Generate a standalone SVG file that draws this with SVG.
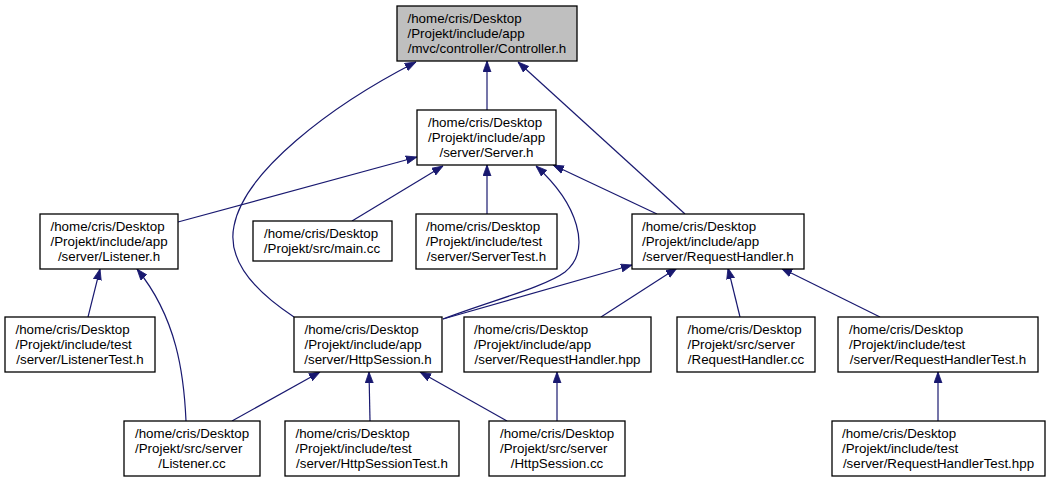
<svg xmlns="http://www.w3.org/2000/svg" width="1049" height="483" viewBox="0 0 1049 483">
<style>
.n rect{fill:#fff;stroke:#000;stroke-width:1.3}
.n.root rect{fill:#bfbfbf}
.n text{font-family:"Liberation Sans",Arial,Helvetica,sans-serif;font-size:13.33px;fill:#000}
.c{text-anchor:middle}
.e path{fill:none;stroke:#191970;stroke-width:1.2;marker-end:url(#ah)}
</style>
<defs>
<marker id="ah" viewBox="0 0 11 9" refX="11" refY="4.5" markerWidth="11" markerHeight="9" markerUnits="userSpaceOnUse" orient="auto">
<path d="M0,0.5 L11,4.5 L0,8.5 z" fill="#191970" stroke="#191970" stroke-width="0.8"/>
</marker>
</defs>
<rect width="1049" height="483" fill="#fff"/>
<g class="e" id="edges">
<path d="M487,110 L487,61"/>
<path d="M294,317 C262,296 226,264 234,226 C244,172 330,106 416,62"/>
<path d="M685,214 L518,62"/>
<path d="M178,222 L417,157"/>
<path d="M352,221 L443,166"/>
<path d="M487,214 L487,165"/>
<path d="M443,319 C490,301 545,287 565,272 C592,250 578,204 536,166"/>
<path d="M657,214 L553,165"/>
<path d="M443,319 L632,265"/>
<path d="M601,317 L677,268"/>
<path d="M740,317 L728,268"/>
<path d="M880,317 L781,268"/>
<path d="M88,317 L100,269"/>
<path d="M186,421 C184,375 177,318 137,269"/>
<path d="M232,421 L320,372"/>
<path d="M370,421 L369,372"/>
<path d="M507,421 L420,372"/>
<path d="M557,421 L557,372"/>
<path d="M938,421 L938,372"/>
</g>
<g class="n root" id="controller"><rect x="397" y="6" width="180" height="55"/>
<text x="407.5" y="23.3">/home/cris/Desktop</text><text x="407.5" y="38">/Projekt/include/app</text><text class="c" x="487" y="52.7">/mvc/controller/Controller.h</text></g>
<g class="n" id="server"><rect x="417" y="110" width="139" height="55"/>
<text x="428" y="127.3">/home/cris/Desktop</text><text x="428" y="142">/Projekt/include/app</text><text class="c" x="486.5" y="156.7">/server/Server.h</text></g>
<g class="n" id="listener_h"><rect x="40" y="214" width="138" height="55"/>
<text x="50.5" y="231.3">/home/cris/Desktop</text><text x="50.5" y="246">/Projekt/include/app</text><text class="c" x="109" y="260.7">/server/Listener.h</text></g>
<g class="n" id="main_cc"><rect x="253" y="221" width="139" height="40"/>
<text x="264" y="238.2">/home/cris/Desktop</text><text class="c" x="322" y="252.8">/Projekt/src/main.cc</text></g>
<g class="n" id="servertest_h"><rect x="416" y="214" width="141" height="55"/>
<text x="426" y="231.3">/home/cris/Desktop</text><text x="426" y="246">/Projekt/include/test</text><text class="c" x="486.5" y="260.7">/server/ServerTest.h</text></g>
<g class="n" id="requesthandler_h"><rect x="632" y="214" width="172" height="55"/>
<text x="642" y="231.3">/home/cris/Desktop</text><text x="642" y="246">/Projekt/include/app</text><text class="c" x="718" y="260.7">/server/RequestHandler.h</text></g>
<g class="n" id="listenertest_h"><rect x="5" y="317" width="150" height="55"/>
<text x="15.5" y="334.3">/home/cris/Desktop</text><text x="15.5" y="349">/Projekt/include/test</text><text class="c" x="80" y="363.7">/server/ListenerTest.h</text></g>
<g class="n" id="httpsession_h"><rect x="294" y="317" width="148" height="55"/>
<text x="304.5" y="334.3">/home/cris/Desktop</text><text x="304.5" y="349">/Projekt/include/app</text><text class="c" x="368" y="363.7">/server/HttpSession.h</text></g>
<g class="n" id="requesthandler_hpp"><rect x="464" y="317" width="187" height="55"/>
<text x="474" y="334.3">/home/cris/Desktop</text><text x="474" y="349">/Projekt/include/app</text><text class="c" x="557.5" y="363.7">/server/RequestHandler.hpp</text></g>
<g class="n" id="requesthandler_cc"><rect x="677" y="317" width="138" height="55"/>
<text x="687.5" y="334.3">/home/cris/Desktop</text><text x="687.5" y="349">/Projekt/src/server</text><text class="c" x="746" y="363.7">/RequestHandler.cc</text></g>
<g class="n" id="requesthandlertest_h"><rect x="838" y="317" width="200" height="55"/>
<text x="849" y="334.3">/home/cris/Desktop</text><text x="849" y="349">/Projekt/include/test</text><text class="c" x="938" y="363.7">/server/RequestHandlerTest.h</text></g>
<g class="n" id="listener_cc"><rect x="124" y="421" width="136" height="55"/>
<text x="135" y="438.3">/home/cris/Desktop</text><text x="135" y="453">/Projekt/src/server</text><text class="c" x="192" y="467.7">/Listener.cc</text></g>
<g class="n" id="httpsessiontest_h"><rect x="285" y="421" width="174" height="55"/>
<text x="295.5" y="438.3">/home/cris/Desktop</text><text x="295.5" y="453">/Projekt/include/test</text><text class="c" x="372" y="467.7">/server/HttpSessionTest.h</text></g>
<g class="n" id="httpsession_cc"><rect x="489" y="421" width="136" height="55"/>
<text x="500" y="438.3">/home/cris/Desktop</text><text x="500" y="453">/Projekt/src/server</text><text class="c" x="557" y="467.7">/HttpSession.cc</text></g>
<g class="n" id="requesthandlertest_hpp"><rect x="832" y="421" width="213" height="55"/>
<text x="842" y="438.3">/home/cris/Desktop</text><text x="842" y="453">/Projekt/include/test</text><text class="c" x="938.5" y="467.7">/server/RequestHandlerTest.hpp</text></g>
</svg>
